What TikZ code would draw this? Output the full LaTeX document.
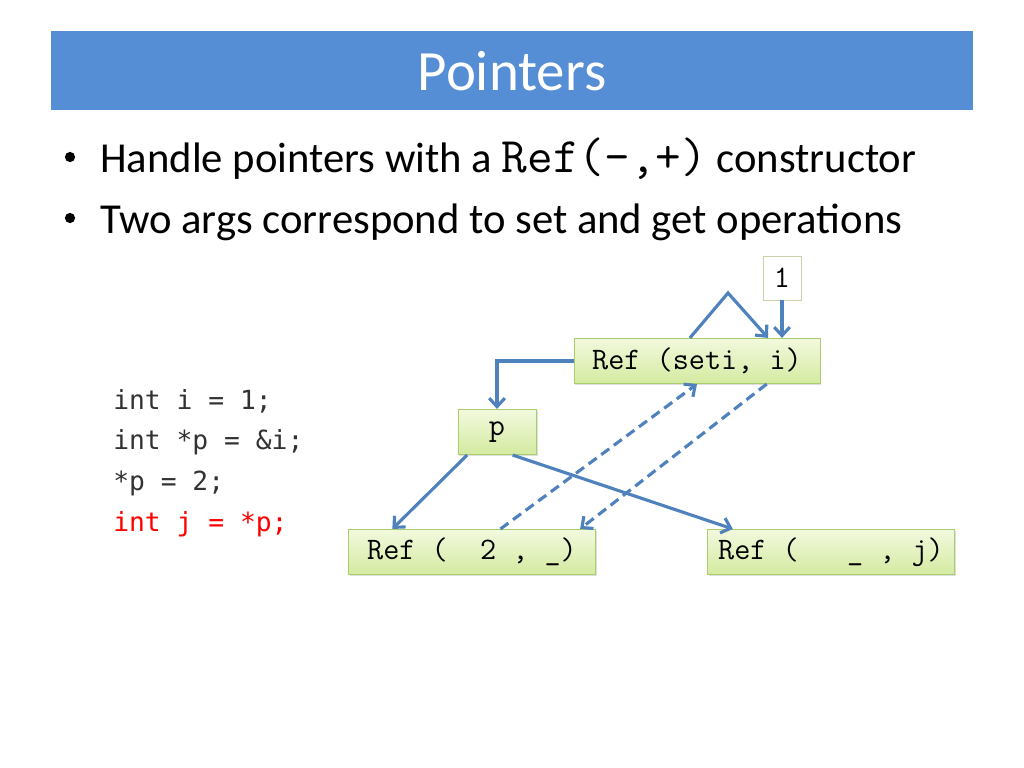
\documentclass[tikz,border=0pt]{standalone}
\usepackage{fontspec}
\setmainfont{Carlito}
\newfontfamily\codefont{DejaVu Sans Mono}
\usepackage{tikz}
\usetikzlibrary{shadows,arrows.meta}

\definecolor{titleblue}{RGB}{85,142,213}
\definecolor{linkblue}{RGB}{79,129,189}
\definecolor{boxedge}{RGB}{170,205,110}
\definecolor{oneedge}{RGB}{200,210,170}
\definecolor{boxtop}{RGB}{242,249,222}
\definecolor{boxbottom}{RGB}{212,234,160}
\definecolor{codegray}{RGB}{50,50,50}

\begin{document}
\begin{tikzpicture}[x=0.703pt,y=-0.703pt]
				\tikzset{refbox/.style={draw=boxedge,top color=boxtop,bottom color=boxbottom,drop shadow={opacity=0.25,shadow xshift=1pt,shadow yshift=-1pt},font=\ttfamily\fontsize{22}{24}\selectfont,inner sep=0pt,minimum height=32pt}}
				\tikzset{link/.style={draw=linkblue,line width=2.2pt,-{Straight Barb[length=6pt,width=11pt,line width=2.2pt]}}}
				\tikzset{codeline/.style={anchor=base west,font=\codefont\fontsize{18.5}{20}\selectfont,text=codegray,inner sep=0pt}}
				\tikzset{bulletline/.style={anchor=base west,inner sep=0pt,font=\fontsize{30}{34}\selectfont}}
				\useasboundingbox (0,0) rectangle (1024,768);
				% title bar
				\fill[titleblue] (51,31) rectangle (973,110);
				\node[text=white,font=\fontsize{40}{44}\selectfont] (title) at (512,71) {Pointers};
				% bullets
				\node[bulletline] (b1) at (100,172) {Handle pointers with a {\ttfamily\fontsize{35}{36}\selectfont Ref(–,+)} constructor};
				\node[bulletline] (b2) at (100,233) {Two args correspond to set and get operations};
				\fill (70,157) circle (3.6pt);
				\fill (70,218) circle (3.6pt);
				% code
				\node[codeline] (c1) at (113,409) {int i = 1;};
				\node[codeline] (c2) at (113,449) {int *p = \&i;};
				\node[codeline] (c3) at (113,490) {*p = 2;};
				\node[codeline,text=red] (c4) at (113,531) {int j = *p;};
				% boxes
				\node[draw=oneedge,fill=white,font=\ttfamily\fontsize{22}{24}\selectfont,minimum width=27pt,minimum height=31pt,inner sep=0pt] (one) at (782,278) {1};
				\node[refbox,minimum width=173pt] (seti) at (697,361) {Ref (seti, i)};
				\node[refbox,minimum width=55pt] (p) at (497,432) {p};
				\node[refbox,minimum width=174pt] (two) at (472,552) {Ref (~~2 , \_)};
				\node[refbox,minimum width=174pt] (getj) at (831,552) {Ref (~~~\_ , j)};
				% connectors
				\coordinate (peak) at (728,293);
				\draw[link] (seti.west) -| (p.north);
				\draw[link] ([xshift=-5pt]seti.north) -- (peak) -- ([xshift=50pt]seti.north);
				\draw[link] (one.south) -- (one.south |- seti.north);
				\draw[link] ([xshift=-21pt]p.south) -- ([xshift=-56pt]two.north);
				\draw[link] ([xshift=11pt]p.south) -- ([xshift=-69pt]getj.north);
				\draw[link,dash pattern=on 7pt off 4pt] ([xshift=20pt]two.north) -- (seti.south);
				\draw[link,dash pattern=on 7pt off 4pt] ([xshift=49pt]seti.south) -- ([xshift=76pt]two.north);
			\end{tikzpicture}
\end{document}
